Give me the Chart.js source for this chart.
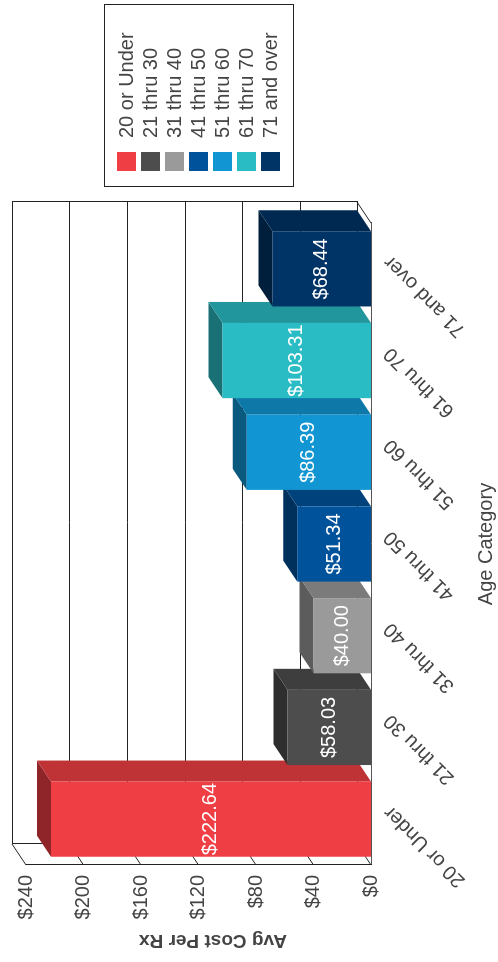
<!DOCTYPE html>
<html>
<head>
<meta charset="utf-8">
<script src="https://cdn.jsdelivr.net/npm/chart.js@4.4.1/dist/chart.umd.min.js"></script>
<style>
  html, body { margin: 0; padding: 0; background: #fff; }
  body { width: 498px; height: 962px; overflow: hidden; position: relative; }
  /* the chart is laid out 962 wide, then turned a quarter turn to the left */
  #wrap { position: absolute; left: 0; top: 0; width: 962px; height: 498px;
          transform-origin: 0 0; transform: translate(0, 962px) rotate(-90deg); }
</style>
</head>
<body>
<div id="wrap"><canvas id="chart" width="962" height="498"></canvas></div>
<script>
const categories = ['20 or Under', '21 thru 30', '31 thru 40', '41 thru 50', '51 thru 60', '61 thru 70', '71 and over'];
const avgCost = [222.64, 58.03, 40.00, 51.34, 86.39, 103.31, 68.44];
const barColors = ['#EF3E44', '#4D4D4D', '#9A9A9A', '#00529B', '#1196D3', '#2ABCC4', '#003366'];
const valueTicks = [0, 40, 80, 120, 160, 200, 240];

const FONT = "'Liberation Sans', Arial, sans-serif";
const TEXT = '#444';
const LINE = '#222';
// depth of the 3d box (back plane offset)
const DX = 21, DY = -14;

Chart.defaults.font.family = FONT;

function shade(hex, f) {
    const n = parseInt(hex.slice(1), 16);
    const r = Math.round(((n >> 16) & 255) * f);
    const g = Math.round(((n >> 8) & 255) * f);
    const b = Math.round((n & 255) * f);
    return `rgb(${r}, ${g}, ${b})`;
}

function poly(ctx, pts, fill) {
    ctx.beginPath();
    ctx.moveTo(pts[0][0], pts[0][1]);
    for (let i = 1; i < pts.length; i++) ctx.lineTo(pts[i][0], pts[i][1]);
    ctx.closePath();
    ctx.fillStyle = fill;
    ctx.fill();
}

const box3d = {
    id: 'box3d',
    beforeDatasetsDraw(chart) {
        const { ctx, chartArea: ca, scales: { y } } = chart;
        ctx.save();
        ctx.lineWidth = 1;
        ctx.strokeStyle = LINE;

        // back wall
        const bl = Math.round(ca.left + DX) + 0.5;
        const br = Math.round(ca.right + DX) + 0.5;
        const bt = Math.round(ca.top + DY) + 0.5;
        const bb = Math.round(ca.bottom + DY) + 0.5;
        ctx.fillStyle = '#fff';
        ctx.fillRect(bl, bt, br - bl, bb - bt);
        ctx.strokeRect(bl, bt, br - bl, bb - bt);

        // grid lines on the back wall and the side wall
        valueTicks.forEach(v => {
            const py = y.getPixelForValue(v);
            const gy = Math.round(py + DY) + 0.5;
            ctx.beginPath();
            ctx.moveTo(bl, gy);
            ctx.lineTo(br, gy);
            ctx.moveTo(ca.left, py);
            ctx.lineTo(ca.left + DX, py + DY);
            ctx.stroke();
        });

        // floor edge on the right
        ctx.beginPath();
        ctx.moveTo(ca.right, ca.bottom);
        ctx.lineTo(ca.right + DX, ca.bottom + DY);
        ctx.stroke();

        // top and side faces of the bars, left to right
        const meta = chart.getDatasetMeta(0);
        meta.data.forEach((bar, i) => {
            const p = bar.getProps(['x', 'y', 'base', 'width'], true);
            const x1 = p.x - p.width / 2, x2 = p.x + p.width / 2;
            const c = barColors[i];
            poly(ctx, [[x1, p.y], [x2, p.y], [x2 + DX, p.y + DY], [x1 + DX, p.y + DY]], shade(c, 0.6));
            poly(ctx, [[x2, p.y], [x2 + DX, p.y + DY], [x2 + DX, p.base + DY], [x2, p.base]], shade(c, 0.8));
        });
        ctx.restore();
    },
    afterDatasetsDraw(chart) {
        const { ctx } = chart;
        const meta = chart.getDatasetMeta(0);
        ctx.save();
        ctx.font = `20px ${FONT}`;
        ctx.fillStyle = '#fff';
        ctx.textAlign = 'center';
        ctx.textBaseline = 'middle';
        meta.data.forEach((bar, i) => {
            const p = bar.getProps(['x', 'y', 'base'], true);
            ctx.fillText('$' + avgCost[i].toFixed(2), p.x, (p.y + p.base) / 2);
        });
        ctx.restore();
    },
    afterDraw(chart) {
        const { ctx, chartArea: ca } = chart;
        ctx.save();

        // axis titles
        ctx.fillStyle = TEXT;
        ctx.font = `bold 19px ${FONT}`;
        ctx.textAlign = 'center';
        ctx.textBaseline = 'middle';
        ctx.translate(22, 213);
        ctx.rotate(-Math.PI / 2);
        ctx.fillText('Avg Cost Per Rx', 0, 0);
        ctx.setTransform(1, 0, 0, 1, 0, 0);
        ctx.font = `20px ${FONT}`;
        ctx.textBaseline = 'alphabetic';
        ctx.fillText('Age Category', (ca.left + ca.right) / 2, 492);

        // legend
        ctx.strokeStyle = LINE;
        ctx.lineWidth = 1;
        ctx.strokeRect(775.5, 104.5, 182, 189);
        ctx.textAlign = 'left';
        ctx.textBaseline = 'middle';
        categories.forEach((cat, i) => {
            const cy = 126.5 + i * 24;
            ctx.fillStyle = barColors[i];
            ctx.fillRect(791, cy - 9.5, 19, 19);
            ctx.fillStyle = TEXT;
            ctx.fillText(cat, 824, cy + 1);
        });
        ctx.restore();
    }
};

new Chart(document.getElementById('chart'), {
    type: 'bar',
    data: {
        labels: categories,
        datasets: [{
            label: 'Avg Cost Per Rx',
            data: avgCost,
            backgroundColor: barColors,
            borderWidth: 0,
            categoryPercentage: 1,
            barPercentage: 0.82
        }]
    },
    options: {
        responsive: false,
        animation: false,
        layout: { padding: { left: 0, top: 26, right: 223, bottom: 0 } },
        plugins: {
            legend: { display: false },
            tooltip: { enabled: false }
        },
        scales: {
            x: {
                grid: { display: false, drawTicks: false },
                border: { display: true, color: '#555' },
                ticks: {
                    autoSkip: false,
                    minRotation: 45,
                    maxRotation: 45,
                    padding: 8,
                    labelOffset: 10,
                    color: TEXT,
                    font: { size: 20 }
                },
                afterFit(scale) { scale.height = 127; }
            },
            y: {
                min: 0,
                max: 240,
                grid: { display: false, drawTicks: false },
                border: { display: true, color: LINE },
                ticks: {
                    stepSize: 40,
                    padding: 10,
                    color: TEXT,
                    font: { size: 20 },
                    callback: v => '$' + v
                },
                afterFit(scale) { scale.width = 97; }
            }
        }
    },
    plugins: [box3d]
});
</script>
</body>
</html>
